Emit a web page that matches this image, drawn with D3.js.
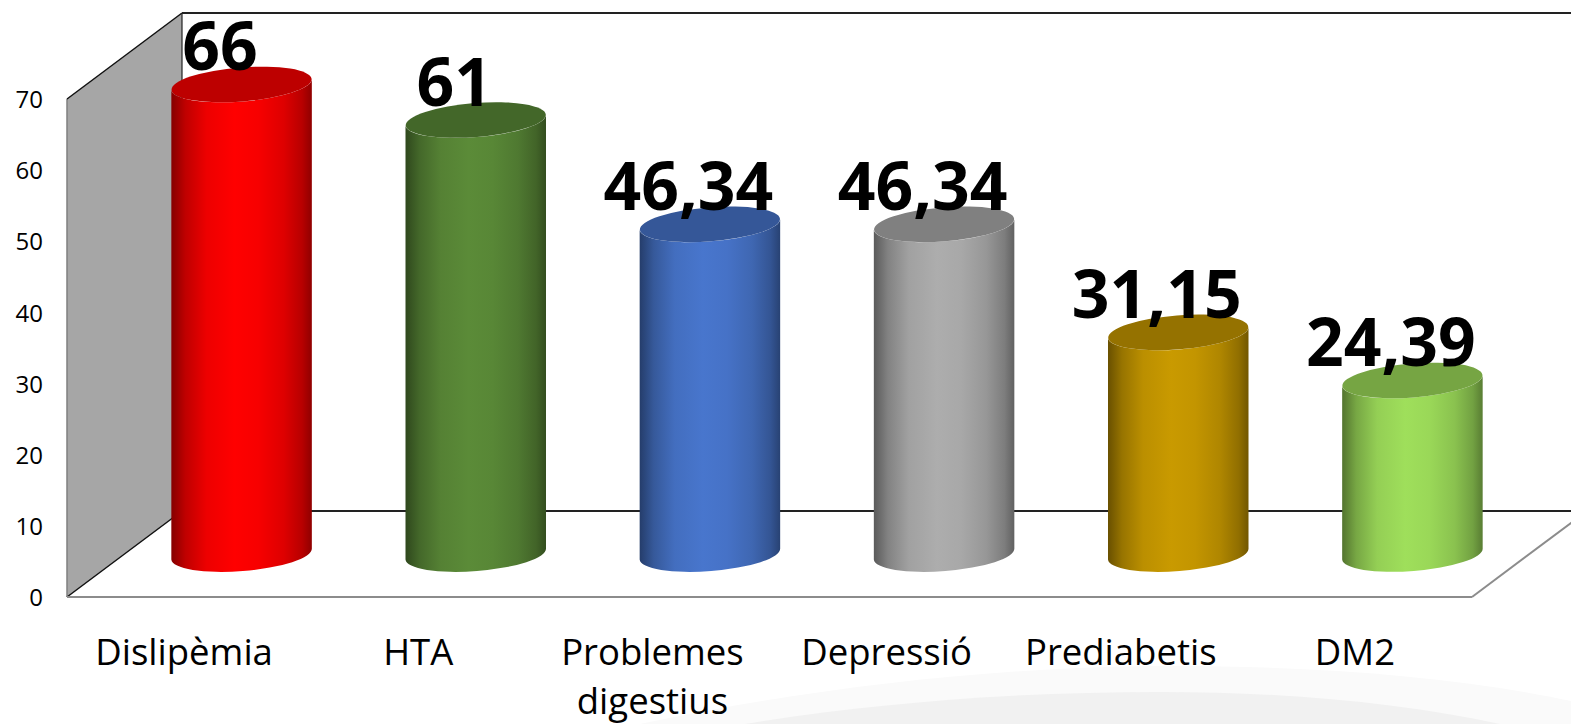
<!DOCTYPE html>
<html>
<head>
<meta charset="utf-8">
<script src="https://cdn.jsdelivr.net/npm/d3@7"></script>
<style>
    html, body { margin: 0; padding: 0; background: #fff; overflow: hidden; }
    text { font-family: "Open Sans", Lato, sans-serif; fill: #000; }
</style>
</head>
<body>
<div id="chart"></div>
<script>
// Data
const categories = ["Dislipèmia", "HTA", "Problemes digestius", "Depressió", "Prediabetis", "DM2"];
const values = [66, 61, 46.34, 46.34, 31.15, 24.39];
const valueLabels = ["66", "61", "46,34", "46,34", "31,15", "24,39"];
const yTicks = [0, 10, 20, 30, 40, 50, 60, 70];
const barColors = ["#ff0000", "#5b8b38", "#4876cd", "#adadad", "#c99a00", "#9fdf5b"];

const width = 1571, height = 724;
const plot = {left: 67, right: 1472, top: 99, bottom: 597};
const depth = {x: 115, y: 86};

const svg = d3.select("#chart")
    .append("svg")
        .attr("width", width)
        .attr("height", height)
        .style("display", "block");

const x = d3.scaleBand()
    .domain(categories)
    .range([plot.left, plot.right])
    .paddingInner(0.4)
    .paddingOuter(0.2);

const y = d3.scaleLinear()
    .domain([0, 70])
    .range([plot.bottom, plot.top]);

// Faint swoosh from the slide background
svg.append("path")
    .attr("d", "M640,724 C800,690 980,668 1150,666 C1300,665 1450,675 1571,701 L1571,724 Z")
    .attr("fill", "#fafafa");
svg.append("path")
    .attr("d", "M745,724 C880,702 1020,692 1160,692 C1290,692 1400,703 1500,724 Z")
    .attr("fill", "#f1f1f1");

// 3D box: side wall, back wall lines, floor lines
const backLeft = plot.left + depth.x;
const backRight = plot.right + depth.x;

svg.append("path")
    .attr("d", d3.line()([
        [plot.left, y(70)], [backLeft, y(70) - depth.y],
        [backLeft, y(0) - depth.y], [plot.left, y(0)]
    ]) + "Z")
    .attr("fill", "#a6a6a6");

function boxLine(x1, y1, x2, y2, color, w) {
    svg.append("line")
        .attr("x1", x1).attr("y1", y1)
        .attr("x2", x2).attr("y2", y2)
        .attr("stroke", color)
        .attr("stroke-width", w);
}

boxLine(plot.left, y(70), plot.left, y(0), "#7f7f7f", 1.5);
boxLine(plot.left, y(70), backLeft, y(70) - depth.y, "#111", 1.5);
boxLine(backLeft, y(70) - depth.y, backLeft, y(0) - depth.y, "#222", 1.2);
boxLine(backLeft, y(70) - depth.y, backRight, y(70) - depth.y, "#222", 2);
boxLine(plot.left, y(0), backLeft, y(0) - depth.y, "#111", 1.5);
boxLine(backLeft, y(0) - depth.y, backRight, y(0) - depth.y, "#222", 2);
boxLine(plot.left, y(0), plot.right, y(0), "#8c8c8c", 2);
boxLine(plot.right, y(0), backRight, y(0) - depth.y, "#8c8c8c", 2);

// Gradients for the cylinders
const defs = svg.append("defs");
barColors.forEach((c, i) => {
    const grad = defs.append("linearGradient")
        .attr("id", "cyl-" + i);
    const base = d3.rgb(c);
    [[0, 0.52], [0.1, 0.75], [0.25, 0.93], [0.45, 1], [0.62, 0.97], [0.8, 0.87], [0.93, 0.72], [1, 0.56]]
        .forEach(s => {
            grad.append("stop")
                .attr("offset", s[0])
                .attr("stop-color", d3.rgb(base.r * s[1], base.g * s[1], base.b * s[1]).formatHex());
        });
});

// Cylinders
const rx = x.bandwidth() / 2;
const ry = 17;
const tilt = 4.5;
const dy = rx * Math.sin(tilt * Math.PI / 180);
const centerX = d => x(d) + rx + depth.x / 2;
const barOffset = depth.y / 2;

const bars = svg.selectAll(".bar")
    .data(categories)
    .enter()
    .append("g")
        .attr("class", "bar");

bars.append("path")
    .attr("fill", (d, i) => "url(#cyl-" + i + ")")
    .attr("d", (d, i) => {
        const cx = centerX(d);
        const top = y(values[i]) - barOffset;
        const bot = y(0) - barOffset;
        return "M" + (cx - rx) + "," + (top + dy)
            + "L" + (cx - rx) + "," + (bot + dy)
            + "A" + rx + "," + ry + " " + (-tilt) + " 0 0 " + (cx + rx) + "," + (bot - dy)
            + "L" + (cx + rx) + "," + (top - dy)
            + "A" + rx + "," + ry + " " + (-tilt) + " 0 1 " + (cx - rx) + "," + (top + dy)
            + "Z";
    });

bars.append("ellipse")
    .attr("rx", rx)
    .attr("ry", ry)
    .attr("transform", (d, i) => "translate(" + centerX(d) + "," + (y(values[i]) - barOffset) + ") rotate(" + (-tilt) + ")")
    .attr("fill", (d, i) => {
        const b = d3.rgb(barColors[i]);
        return d3.rgb(b.r * 0.74, b.g * 0.74, b.b * 0.74).formatHex();
    });

// Value labels
svg.selectAll(".value")
    .data(categories)
    .enter()
    .append("text")
        .attr("class", "value")
        .attr("x", d => x(d) + rx + 36)
        .attr("y", (d, i) => y(values[i]) - 57)
        .attr("text-anchor", "middle")
        .style("font-size", "66px")
        .style("font-weight", "bold")
        .text((d, i) => valueLabels[i]);

// Y axis
const yAxis = svg.append("g")
    .attr("transform", "translate(" + (plot.left - 24) + ",1)")
    .call(d3.axisLeft(y).tickValues(yTicks).tickSize(0).tickPadding(0));
yAxis.select(".domain").remove();
yAxis.selectAll("text").style("font-size", "24px").style("font-family", "\"Open Sans\", sans-serif");

// Category labels, wrapped on spaces
const labels = svg.selectAll(".cat")
    .data(categories)
    .enter()
    .append("text")
        .attr("class", "cat")
        .attr("x", d => x(d) + rx)
        .attr("y", 665)
        .attr("text-anchor", "middle")
        .style("font-size", "36.5px");

labels.each(function(d) {
    const words = d.split(" ");
    d3.select(this).selectAll("tspan")
        .data(words)
        .enter()
        .append("tspan")
            .attr("x", x(d) + rx)
            .attr("dy", (w, i) => i ? 49 : 0)
            .text(w => w);
});
</script>
</body>
</html>
